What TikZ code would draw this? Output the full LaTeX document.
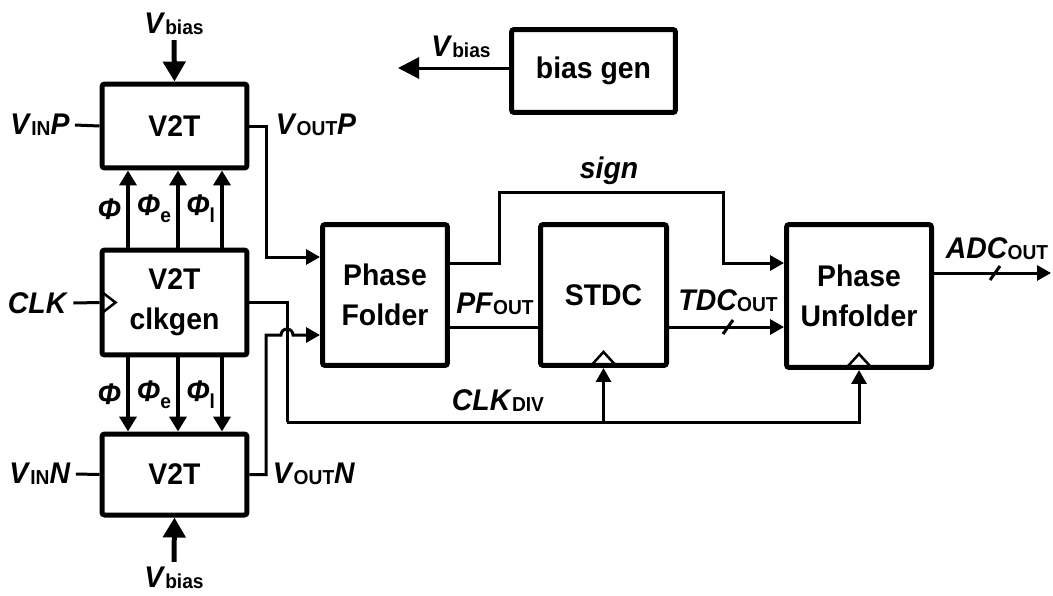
\documentclass[tikz,border=0pt]{standalone}
\usepackage{fontspec}
\setmainfont{Liberation Sans}[FakeStretch=0.95]
\usetikzlibrary{arrows.meta,calc}

% signal names: italic base, small upright index
\newcommand{\sig}[2]{\textit{#1}{\fontsize{11.5}{12}\selectfont\raisebox{-0.5pt}{#2}}}
\newcommand{\phisub}[1]{\textit{Φ}{\fontsize{11.5}{12}\selectfont\raisebox{-4pt}{#1}}}

\begin{document}
\begin{tikzpicture}[x=0.02cm, y=-0.02cm,
  font=\fontsize{17}{23}\selectfont\bfseries,
  blk/.style={draw, line width=0.1cm, rounded corners=1.5pt, align=center, inner sep=0pt},
  lbl/.style={inner sep=0.1cm},
  wire/.style={line width=0.06cm},
  sigarrow/.style={wire, -{Triangle[length=0.28cm, width=0.3cm]}},
  phiarrow/.style={line width=0.08cm, -{Triangle[length=0.3cm, width=0.34cm]}},
  biasarrow/.style={line width=0.1cm, -{Triangle[length=0.4cm, width=0.44cm]}},
  clkmark/.style={line width=0.05cm}]
  \useasboundingbox (0,0) rectangle (1053,595);

  % V2T pair and clock generator
  \node[blk, minimum width=2.9cm, minimum height=1.68cm] (v2tp) at (174.5,126) {V2T};
  \node[blk, minimum width=2.9cm, minimum height=2.1cm] (clk) at (174.5,302.5) {V2T\\clkgen};
  \node[blk, minimum width=2.9cm, minimum height=1.62cm] (v2tn) at (174.5,474.5) {V2T};

  % back end
  \node[blk, minimum width=2.5cm, minimum height=2.82cm] (pf) at (385,295) {Phase\\Folder};
  \node[blk, minimum width=2.52cm, minimum height=2.82cm] (stdc) at (603.5,295) {STDC};
  \node[blk, minimum width=2.9cm, minimum height=2.86cm] (puf) at (859,296) {Phase\\Unfolder};
  \node[blk, minimum width=3.28cm, minimum height=1.66cm] (biasgen) at (593.5,71) {bias gen};

  % bias inputs
  \node[lbl] (vbiast) at (174,24) {\sig{V}{bias}};
  \node[lbl] (vbiasb) at (174,578) {\sig{V}{bias}};
  \draw[biasarrow] (vbiast.south) -- (v2tp.north);
  \draw[biasarrow] (vbiasb.north) -- (v2tn.south);

  \node[lbl] (vbiasg) at (461,47) {\sig{V}{bias}};
  \coordinate (vbiasend) at (398,68);
  \draw[wire, -{Triangle[length=0.42cm, width=0.42cm]}] (biasgen.west |- vbiasend) -- (vbiasend);

  % analog inputs
  \node[lbl] (vinp) at (40,125) {\sig{V}{IN}\textit{P}};
  \node[lbl] (vinn) at (40,474) {\sig{V}{IN}\textit{N}};
  \draw[wire] (vinp.east) -- (v2tp.west);
  \draw[wire] (vinn.east) -- (v2tn.west);

  % clock input
  \node[lbl] (clkin) at (38,303) {\textit{CLK}};
  \draw[wire] (clkin.east) -- (clk.west);
  \draw[clkmark] ($(clk.west)+(3,-10)$) -- ++(13,10) -- ++(-13,10);

  % phases
  \foreach \x/\phl in {128/{\textit{Φ}}, 178/{\phisub{e}}, 222/{\phisub{l}}} {
    \draw[phiarrow] (clk.north -| \x,0) -- (v2tp.south -| \x,0) node[midway, left, lbl] {\phl};
    \draw[phiarrow] (clk.south -| \x,0) -- (v2tn.north -| \x,0) node[midway, left, lbl] {\phl};
  }

  % V2T outputs
  \node[lbl] (voutp) at (316,125) {\sig{V}{OUT}\textit{P}};
  \node[lbl] (voutn) at (314,474) {\sig{V}{OUT}\textit{N}};
  \draw[sigarrow] (v2tp.east) -| (266,257) -- (pf.west |- 0,257);
  \draw[sigarrow] (v2tn.east) -| (266,335) -- (281,335)
    arc[start angle=180, end angle=0, radius=0.12cm] -- (pf.west |- 0,335);

  % divided clock
  \coordinate (clkdiv) at (287,422);
  \node[lbl] (clkdivl) at (498,401) {\sig{CLK}{DIV}};
  \draw[wire] (clk.east) -| (clkdiv);
  \draw[sigarrow] (clkdiv) -| (puf.south);
  \draw[sigarrow] (stdc.south |- clkdiv) -- (stdc.south);
  \draw[clkmark] ($(stdc.south)+(-11,-4)$) -- ++(11,-12) -- ++(11,12);
  \draw[clkmark] ($(puf.south)+(-11,-4)$) -- ++(11,-12) -- ++(11,12);

  % folder -> STDC -> unfolder
  \node[lbl] (pfout) at (495,304) {\sig{PF}{OUT}};
  \draw[wire] (pf.east |- 0,327) -- (stdc.west |- 0,327);
  \node[lbl] (sign) at (609,171) {\textit{sign}};
  \draw[sigarrow] (pf.east |- 0,263) -| (499,192) -| (723,263) -- (puf.west |- 0,263);
  \node[lbl] (tdcout) at (728,301) {\sig{TDC}{OUT}};
  \draw[sigarrow] (stdc.east |- 0,327) -- (puf.west |- 0,327);
  \draw[wire] (723,334) -- ++(10,-14);

  % output
  \node[lbl] (adcout) at (997,249) {\sig{ADC}{OUT}};
  \coordinate (adcend) at (1051,273);
  \draw[sigarrow] (puf.east |- adcend) -- (adcend);
  \draw[wire] (990,280) -- ++(10,-14);
\end{tikzpicture}
\end{document}
